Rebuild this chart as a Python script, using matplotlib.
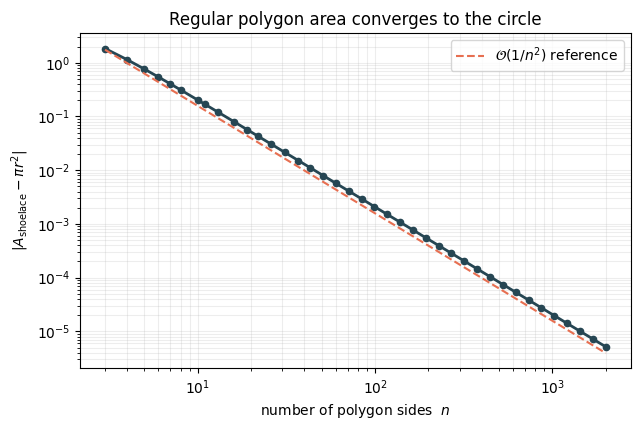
import matplotlib
matplotlib.use('Agg')
import matplotlib.pyplot as plt

# polygon side counts and |A_shoelace - pi r^2|
n_sides = [3, 4, 5, 6, 7, 8, 10, 11, 13, 16, 19, 22, 26, 31, 37, 43, 51, 60, 71,
           84, 99, 117, 139, 164, 194, 229, 270, 319, 377, 446, 527, 622, 735,
           868, 1026, 1212, 1432, 1692, 2000]
area_err = [1.842555, 1.141593, 0.763951, 0.543516, 0.405182, 0.313166,
            0.202667, 0.168069, 0.120892, 0.080126, 0.056948, 0.042534,
            0.030489, 0.021466, 0.015077, 0.011168, 0.0079413, 0.0057387,
            0.0040990, 0.0029288, 0.0021087, 0.0015098, 0.0010698,
            0.00076849, 0.00054920, 0.00039417, 0.00028355, 0.00020313,
            0.00014544, 0.00010392, 7.4428e-05, 5.3429e-05, 3.8264e-05,
            2.7436e-05, 1.9636e-05, 1.4072e-05, 1.0080e-05, 7.2204e-06,
            5.1677e-06]

# dashed O(1/n^2) guide, end points
ref_n = [3, 2000]
ref_err = [1.75, 3.94e-06]

fig = plt.figure(figsize=(6.39, 4.30), dpi=100)

plt.loglog(n_sides, area_err, color='#264653', lw=2, marker='o', ms=4.5)
plt.loglog(ref_n, ref_err, color='#e76f51', lw=1.5, linestyle='--',
           label=r'$\mathcal{O}(1/n^2)$ reference')

plt.grid(True, which='both', alpha=0.22)
plt.xlabel(r'number of polygon sides  $n$')
plt.ylabel(r'$|A_{\mathrm{shoelace}} - \pi r^2|$')
plt.title('Regular polygon area converges to the circle')
plt.legend(loc='upper right')

plt.subplots_adjust(left=0.1252, right=0.987, top=0.9226, bottom=0.1435)
plt.savefig('out.png', dpi=100)
